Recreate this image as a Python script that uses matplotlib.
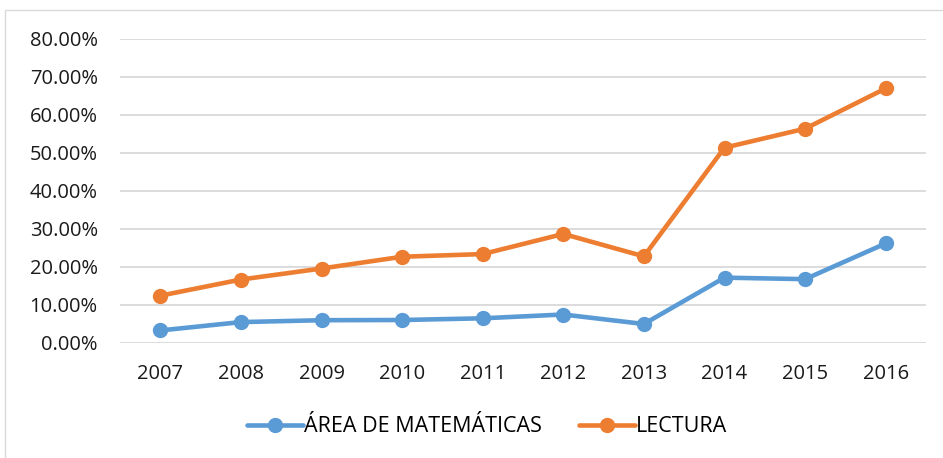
import numpy as np
import matplotlib.pyplot as plt
from matplotlib.patches import Rectangle
from matplotlib.ticker import FuncFormatter

years = ["2007", "2008", "2009", "2010", "2011", "2012", "2013", "2014", "2015", "2016"]
matematicas = [0.033, 0.055, 0.060, 0.0605, 0.065, 0.075, 0.050, 0.172, 0.168, 0.262]
lectura = [0.1245, 0.167, 0.196, 0.227, 0.234, 0.287, 0.228, 0.514, 0.564, 0.670]
labels = ["ÁREA DE MATEMÁTICAS", "LECTURA"]

plt.rcParams['font.family'] = ['Open Sans', 'DejaVu Sans']

fig = plt.figure(figsize=(9.43, 4.58), dpi=100)
ax = fig.add_axes([120 / 943, 1 - 343 / 458, 806 / 943, 304 / 458])

# light border around the chart area
fig.patches.append(Rectangle((5 / 943, -0.1), 1.2, (448 / 458) + 0.1,
                             transform=fig.transFigure, fill=False,
                             edgecolor="#d9d9d9", linewidth=1))

x = np.arange(len(years))
ax.plot(x, matematicas, color="#5b9bd5", lw=3.3, marker="o", ms=10,
        solid_capstyle="round", label=labels[0], zorder=3)
ax.plot(x, lectura, color="#ed7d31", lw=3.3, marker="o", ms=10,
        solid_capstyle="round", label=labels[1], zorder=3)

ax.set_xlim(-0.5, len(years) - 0.5)
ax.set_ylim(0, 0.8)
ax.set_yticks(np.arange(0, 0.81, 0.1))
ax.yaxis.set_major_formatter(FuncFormatter(lambda v, p: "%.2f%%" % (v * 100)))
ax.set_xticks(x)
ax.set_xticklabels(years)
ax.grid(axis="y", color="#d9d9d9", lw=1.3)
ax.set_axisbelow(True)
for s in ax.spines.values():
    s.set_visible(False)
ax.tick_params(axis="both", length=0, labelsize=14.5, colors="#1a1a1a")
ax.tick_params(axis="x", pad=15)
ax.tick_params(axis="y", pad=16)

fig.legend(loc="center", bbox_to_anchor=(487 / 943, 1 - 427 / 458), ncol=2,
           frameon=False, fontsize=15.5, handlelength=2.6, columnspacing=1.7,
           handletextpad=0.05)

fig.savefig("out.png", dpi=100)
